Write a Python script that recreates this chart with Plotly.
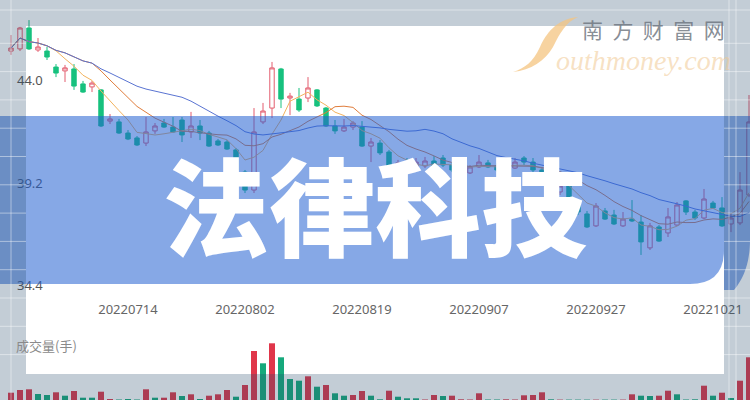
import plotly.graph_objects as go
import pandas as pd

# ---------------- data ----------------
dates = [
    "20220627", "20220628", "20220629", "20220630", "20220701",
    "20220704", "20220705", "20220706", "20220707", "20220708",
    "20220711", "20220712", "20220713", "20220714", "20220715",
    "20220718", "20220719", "20220720", "20220721", "20220722",
    "20220725", "20220726", "20220727", "20220728", "20220729",
    "20220801", "20220802", "20220803", "20220804", "20220805",
    "20220808", "20220809", "20220810", "20220811", "20220812",
    "20220815", "20220816", "20220817", "20220818", "20220819",
    "20220822", "20220823", "20220824", "20220825", "20220826",
    "20220829", "20220830", "20220831", "20220901", "20220902",
    "20220905", "20220906", "20220907", "20220908", "20220909",
    "20220913", "20220914", "20220915", "20220916",
    "20220919", "20220920", "20220921", "20220922", "20220923",
    "20220926", "20220927", "20220928", "20220929", "20220930",
    "20221010", "20221011", "20221012", "20221013", "20221014",
    "20221017", "20221018", "20221019", "20221020", "20221021",
    "20221024", "20221025", "20221026", "20221027",
]

open_ = [45.38, 45.48, 46.46, 45.43, 45.38, 44.63, 44.45, 44.54, 43.84, 43.70,
         43.56, 42.10, 42.06, 41.54, 41.31, 41.07, 41.64, 42.01, 41.82, 42.15,
         41.59, 41.87, 41.54, 41.17, 41.12, 40.75, 39.71, 38.87, 42.06, 42.71,
         44.54, 43.18, 43.13, 43.18, 43.56, 42.71, 41.87, 41.64, 41.82, 41.82,
         40.93, 41.07, 40.65, 39.71, 40.14, 39.90, 40.00, 40.23, 40.37, 40.04,
         39.71, 39.67, 39.95, 40.14, 40.00, 39.81, 39.90, 40.37, 40.18,
         39.81, 39.25, 38.78, 39.06, 38.17, 37.75, 37.19, 37.89, 37.70, 37.19,
         37.51, 37.37, 36.16, 37.14, 36.86, 37.23, 38.36, 37.84, 37.56, 38.26,
         38.03, 37.28, 37.33, 38.64]
high = [46.13, 46.51, 46.83, 45.99, 45.57, 44.77, 44.73, 44.77, 43.98, 43.98,
        43.60, 42.43, 42.20, 41.68, 41.40, 42.29, 42.01, 42.20, 42.29, 42.29,
        42.53, 42.15, 41.64, 41.26, 41.21, 40.84, 39.81, 42.71, 42.95, 44.87,
        44.59, 43.42, 43.65, 44.16, 43.60, 42.76, 42.15, 42.20, 42.10, 42.10,
        41.31, 41.21, 40.75, 40.28, 40.37, 40.37, 40.42, 40.46, 40.51, 40.18,
        40.04, 40.04, 40.51, 40.28, 40.14, 40.18, 40.37, 40.46, 40.37,
        39.90, 39.43, 39.20, 39.15, 38.36, 37.89, 38.26, 38.03, 37.94, 37.84,
        38.40, 37.70, 37.33, 37.23, 38.03, 38.31, 38.40, 37.94, 38.92, 38.36,
        38.54, 37.79, 39.71, 43.32]
low = [45.20, 45.38, 45.43, 45.34, 44.96, 44.16, 43.93, 43.56, 43.42, 43.46,
       41.82, 41.96, 41.50, 41.21, 40.93, 40.93, 41.50, 41.78, 41.54, 41.12,
       41.31, 41.21, 40.89, 40.93, 40.75, 39.71, 38.73, 38.73, 41.96, 42.24,
       42.71, 42.38, 42.53, 42.99, 42.76, 41.82, 41.50, 41.59, 41.68, 40.89,
       40.18, 40.51, 39.48, 39.53, 39.76, 39.81, 39.90, 39.90, 39.95, 39.71,
       39.57, 39.62, 39.90, 39.90, 39.71, 39.71, 39.86, 40.04, 39.71,
       39.15, 38.73, 38.64, 38.26, 37.70, 37.09, 37.14, 37.47, 37.23, 37.14,
       37.37, 35.83, 36.06, 36.44, 36.67, 37.19, 37.70, 37.47, 37.51, 37.98,
       37.14, 36.90, 37.23, 38.54]
close = [45.52, 46.46, 45.48, 45.57, 45.10, 44.35, 44.59, 43.74, 43.46, 43.88,
         41.87, 42.20, 41.54, 41.26, 40.98, 41.59, 41.87, 41.82, 41.59, 41.45,
         41.87, 41.54, 40.93, 40.98, 40.79, 39.81, 38.87, 41.59, 42.57, 44.59,
         43.13, 43.27, 42.62, 43.65, 42.81, 41.87, 41.64, 41.82, 42.01, 40.93,
         41.12, 40.61, 39.57, 40.14, 39.90, 40.18, 40.23, 40.00, 40.04, 39.81,
         39.90, 39.95, 40.18, 39.95, 39.81, 40.04, 40.18, 40.18, 39.81,
         39.25, 38.87, 39.06, 38.40, 37.84, 37.14, 38.12, 37.51, 37.28, 37.51,
         37.42, 36.44, 37.19, 36.48, 37.61, 38.17, 37.84, 37.56, 38.45, 38.03,
         37.19, 37.56, 38.87, 42.06]
volume = [3650, 5000, 5350, 3000, 2500, 3850, 2150, 4500, 1150, 1150,
          4150, 500, 250, 500, 250, 5350, 1150, 1150, 3850, 2000,
          2850, 500, 2150, 2850, 5000, 1650, 7500, 24500, 18350, 28350,
          21350, 10500, 9650, 11850, 6650, 7500, 3350, 2150, 2500, 4500,
          2150, 350, 4650, 1650, 850, 850, 250, 2500, 2000, 2150,
          350, 250, 3350, 250, 250, 350, 250, 2350, 2500,
          3850, 350, 200, 200, 200, 200, 200, 200, 200, 200,
          2850, 2150, 2000, 2150, 4650, 2850, 250, 350, 7150, 2150,
          3650, 1000, 9650, 21350]
# colour of each volume bar as seen in the picture: 1 = red, 0 = green
volume_up = [1, 1, 1, 0, 0, 1, 0, 1, 0, 0,
             1, 1, 0, 0, 0, 1, 0, 1, 1, 0,
             1, 0, 1, 1, 1, 0, 1, 1, 0, 1,
             0, 0, 0, 1, 0, 1, 0, 0, 1, 1,
             0, 0, 1, 0, 0, 0, 1, 1, 0, 1,
             1, 1, 1, 0, 0, 1, 1, 1, 1,
             1, 0, 1, 0, 0, 0, 1, 0, 0, 1,
             1, 0, 0, 1, 1, 0, 0, 0, 1, 0,
             1, 0, 1, 1]

ma_windows = [5, 10, 20]
tick_dates = ["20220714", "20220802", "20220819", "20220907", "20220927", "20221021"]
price_ticks = [34.4, 39.2, 44.0]

# ---------------- style ----------------
W, H = 750, 400
RED = "#e35d6e"
GREEN = "#17c17e"
VRED = "#e0364a"
VGREEN = "#16a97c"
MA_COLORS = ["#f3b35e", "#e07d3c", "#5a74d2"]


def px(x):
    return x / W


def py(y):
    return 1 - y / H


def pt(x, y):
    return f"{px(x):.5f},{py(y):.5f}"


fig = go.Figure()

fig.add_trace(go.Candlestick(
    x=dates, open=open_, high=high, low=low, close=close,
    increasing=dict(line=dict(color=RED, width=1), fillcolor="rgba(255,255,255,0)"),
    decreasing=dict(line=dict(color=GREEN, width=1), fillcolor=GREEN),
    whiskerwidth=0, showlegend=False, hoverinfo="skip",
))

cs = pd.Series(close)
for w, col in zip(ma_windows, MA_COLORS):
    fig.add_trace(go.Scatter(
        x=dates, y=cs.rolling(w, min_periods=1).mean(), mode="lines",
        line=dict(color=col, width=1), showlegend=False, hoverinfo="skip",
    ))

vol_colors = [VRED if u else VGREEN for u in volume_up]
fig.add_trace(go.Bar(
    x=dates, y=volume, yaxis="y2", marker=dict(color=vol_colors, line=dict(width=0)),
    showlegend=False, hoverinfo="skip",
))

# ---------------- decorative overlay ----------------
shapes = []
BAND = "rgba(35,97,210,0.55)"
shapes.append(dict(type="path", xref="paper", yref="paper", layer="above",
                   path=f"M {pt(26,116)} L {pt(724,116)} L {pt(724,250)} Q {pt(724,284)} {pt(690,284)} L {pt(26,284)} Z",
                   fillcolor=BAND, line=dict(width=0)))
shapes.append(dict(type="path", xref="paper", yref="paper", layer="above",
                   path=f"M {pt(0,116)} L {pt(26,116)} L {pt(26,284)} L {pt(0,284)} Z",
                   fillcolor=BAND, line=dict(width=0)))
shapes.append(dict(type="path", xref="paper", yref="paper", layer="above",
                   path=f"M {pt(724,116)} L {pt(750,116)} L {pt(750,240)} C {pt(750,262)} {pt(744,278)} {pt(734,290)} L {pt(724,290)} Z",
                   fillcolor=BAND, line=dict(width=0)))
FRAME = "rgba(41,74,109,0.28)"
for x0, y0, x1, y1 in [(0, 0, 750, 26), (0, 374, 750, 400), (0, 26, 26, 374), (724, 26, 750, 374)]:
    shapes.append(dict(type="rect", xref="paper", yref="paper", layer="above",
                       x0=px(x0), x1=px(x1), y0=py(y1), y1=py(y0),
                       fillcolor=FRAME, line=dict(width=0)))
GRID = dict(color="rgba(255,255,255,0.45)", width=1)
shapes.append(dict(type="line", xref="paper", yref="paper", layer="above",
                   x0=0, x1=1, y0=py(10), y1=py(10), line=GRID))
for gx in (11, 729, 736):
    shapes.append(dict(type="line", xref="paper", yref="paper", layer="above",
                       x0=px(gx), x1=px(gx), y0=0, y1=1, line=GRID))
for k in range(14):
    gy = 15 + 28.3 * k
    if gy < 26 or gy > 374:
        continue
    shapes.append(dict(type="line", xref="paper", yref="paper", layer="above",
                       x0=0, x1=px(26), y0=py(gy), y1=py(gy), line=GRID))
    shapes.append(dict(type="line", xref="paper", yref="paper", layer="above",
                       x0=px(724), x1=1, y0=py(gy), y1=py(gy), line=GRID))
shapes.append(dict(type="path", xref="paper", yref="paper", layer="above",
                   path=f"M {pt(578,17)} C {pt(556,19)} {pt(546,34)} {pt(540,47)} C {pt(533,62)} {pt(525,68)} {pt(513,72)} "
                        f"C {pt(531,70)} {pt(545,61)} {pt(553,47)} C {pt(560,33)} {pt(566,22)} {pt(578,17)} Z",
                   fillcolor="rgba(244,196,128,0.75)", line=dict(width=0)))

NB = "\u00a0\u00a0"
annotations = [
    dict(text="法律科技", x=px(375), y=py(202), xref="paper", yref="paper",
         showarrow=False, xanchor="center", yanchor="middle",
         font=dict(family="Noto Sans CJK SC", size=106, color="white", weight=900)),
    dict(text=NB.join("南方财富网"), x=px(653), y=py(29), xref="paper", yref="paper",
         showarrow=False, xanchor="center", yanchor="middle",
         font=dict(family="Noto Sans CJK SC", size=21, color="rgba(105,112,122,0.8)")),
    dict(text="outhmoney.com", x=px(643), y=py(61), xref="paper", yref="paper",
         showarrow=False, xanchor="center", yanchor="middle",
         font=dict(family="Liberation Serif", size=28, color="rgba(240,200,145,0.55)", style="italic")),
    dict(text="成交量(手)", x=px(14), y=py(345), xref="paper", yref="paper",
         showarrow=False, xanchor="left", yanchor="middle",
         font=dict(family="Noto Sans CJK SC", size=13, color="#8a8a8a")),
]

fig.update_layout(
    width=W, height=H, margin=dict(l=0, r=0, t=0, b=0),
    paper_bgcolor="white", plot_bgcolor="white",
    showlegend=False, bargap=0.33, boxgap=0.3,
    xaxis=dict(type="category", range=[-11 / 9, 739 / 9], domain=[0, 1],
               tickvals=tick_dates, ticktext=tick_dates,
               showgrid=False, zeroline=False, showline=False, ticks="",
               tickfont=dict(family="Noto Sans", size=13, color="#666666"),
               anchor="free", position=py(300), rangeslider=dict(visible=False)),
    yaxis=dict(domain=[0, 1], range=[47.771 - H / 21.35, 47.771],
               tickvals=price_ticks, ticktext=[f"{v:.1f}" for v in price_ticks],
               ticklabelposition="inside", anchor="free", position=px(13),
               showgrid=False, zeroline=False, showline=False, ticks="",
               tickfont=dict(family="Noto Sans", size=13, color="#555555")),
    yaxis2=dict(domain=[0, 0.15], range=[0, 30000], visible=False, anchor="x"),
    shapes=shapes, annotations=annotations,
)

fig.write_html("out.html", config={"displayModeBar": False, "staticPlot": True},
               post_script="document.body.style.margin='0';document.body.style.overflow='hidden';")
